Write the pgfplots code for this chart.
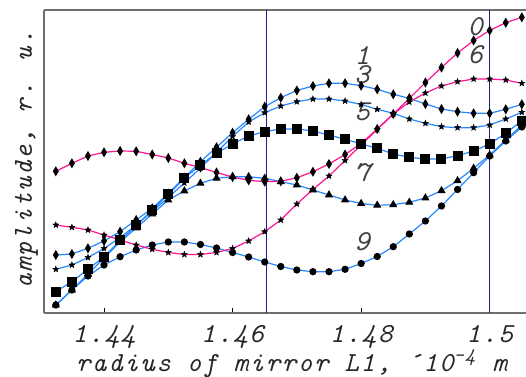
\documentclass[border=0pt]{standalone}
\usepackage{fontspec}
\newfontfamily\mono[LetterSpace=6]{lmmono10-italic.otf}
\newfontfamily\monol{lmmono10-italic.otf}
\usepackage{pgfplots}
\pgfplotsset{compat=1.18}
\usepackage{pgfplotstable}
\definecolor{pinkl}{RGB}{255,20,147}
\definecolor{bluel}{RGB}{40,135,255}
\definecolor{framec}{RGB}{110,110,110}
\definecolor{navyl}{RGB}{30,30,140}

\pgfdeclareplotmark{fstar}{%
 \pgfpathmoveto{\pgfpointpolar{90}{\pgfplotmarksize}}%
 \pgfpathlineto{\pgfpointpolar{126}{0.42\pgfplotmarksize}}%
 \pgfpathlineto{\pgfpointpolar{162}{\pgfplotmarksize}}%
 \pgfpathlineto{\pgfpointpolar{198}{0.42\pgfplotmarksize}}%
 \pgfpathlineto{\pgfpointpolar{234}{\pgfplotmarksize}}%
 \pgfpathlineto{\pgfpointpolar{270}{0.42\pgfplotmarksize}}%
 \pgfpathlineto{\pgfpointpolar{306}{\pgfplotmarksize}}%
 \pgfpathlineto{\pgfpointpolar{342}{0.42\pgfplotmarksize}}%
 \pgfpathlineto{\pgfpointpolar{18}{\pgfplotmarksize}}%
 \pgfpathlineto{\pgfpointpolar{54}{0.42\pgfplotmarksize}}%
 \pgfpathclose\pgfusepathqfillstroke}

\pgfplotstableread{
x      c0     c6     c1     c3     c5     c7     c9
1.4325 141.7  88.0   58.0   43.7   21.3   8.0    8.0
1.4350 149.7  85.7   59.0   48.0   31.3   23.0   23.0
1.4375 157.0  83.0   64.7   55.5   43.7   39.0   37.0
1.4400 160.7  78.0   72.0   64.5   56.3   55.0   48.0
1.4425 162.0  73.0   81.3   75.5   72.5   71.0   56.3
1.4450 161.7  68.0   93.0   88.0   87.5   85.0   63.0
1.4475 158.5  63.7   104.7  101.5  103.0  99.0   68.0
1.4500 155.0  60.5   119.5  115.5  118.5  113.0  71.0
1.4525 149.7  58.5   135.5  130.0  134.7  122.0  71.0
1.4550 145.5  58.5   151.3  145.0  148.0  129.7  68.5
1.4575 140.5  60.5   165.7  160.5  159.7  134.7  65.0
1.4600 136.0  64.5   180.3  176.5  169.0  136.3  60.5
1.4625 132.7  72.0   193.7  191.0  177.0  136.3  56.0
1.4650 131.3  81.3   206.3  200.3  181.3  134.7  51.0
1.4675 131.7  93.0   215.3  207.0  184.0  131.3  46.5
1.4700 135.2  109.0  222.5  211.3  184.0  128.0  43.0
1.4725 141.3  123.5  227.0  214.0  182.0  123.0  41.3
1.4750 149.0  137.0  229.7  214.0  178.0  118.0  41.3
1.4775 158.5  152.5  229.7  212.0  173.7  113.0  43.7
1.4800 169.5  168.0  227.3  208.5  169.0  109.5  49.5
1.4825 184.0  183.5  223.7  203.7  164.7  107.7  56.5
1.4850 199.0  199.0  218.7  199.7  159.0  108.3  66.3
1.4875 214.5  211.0  214.7  194.0  155.7  110.7  79.0
1.4900 230.5  220.0  209.0  189.7  154.0  115.0  92.0
1.4925 245.5  227.0  204.0  186.3  154.0  122.3  107.0
1.4950 260.0  231.3  201.3  185.3  157.3  132.3  123.5
1.4975 272.5  234.0  199.7  185.3  162.0  144.7  140.3
1.5000 282.5  234.0  199.7  188.0  169.0  158.0  157.0
1.5025 290.3  233.0  203.7  194.0  179.7  173.0  172.0
1.5050 295.7  229.7  208.7  200.7  192.3  188.0  186.0
}\data

\begin{document}
\begin{tikzpicture}
\begin{axis}[name=ax, scale only axis, width=241bp, height=151.5bp,
  xmin=1.43066, xmax=1.50565, ymin=0, ymax=303,
  axis x line=box, axis y line=left,
  axis line style={-, draw=framec, line width=0.6bp},
  xtick={1.44,1.46,1.48,1.5}, xticklabels={1.44,1.46,1.48,1.5},
  xtick pos=left, tick align=inside, major tick length=2.5bp,
  tick style={draw=black, line width=0.4bp},
  ytick=\empty,
  xticklabel style={font=\mono\fontsize{13.8}{16}\selectfont, text=black!85, anchor=base, yshift=-15bp},
  xlabel={radius of mirror L1, ´10\textsuperscript{-4} m},
  xlabel style={font=\mono\fontsize{13.8}{16}\selectfont, text=black!85, at={(axis description cs:0.5135,0)}, anchor=base, yshift=-29.3bp},
  ylabel={amplitude, r. u.},
  ylabel style={font=\mono\fontsize{13.8}{16}\selectfont, text=black!85, at={(axis description cs:-0.0249,0.507)}, anchor=base, rotate=0},
  clip=false,
  every axis plot/.append style={line width=0.6bp},
]
\addplot[navyl, line width=0.5bp, forget plot] coordinates {(1.4652,0) (1.4652,303)};
\addplot[navyl, line width=0.5bp, forget plot] coordinates {(1.5,0) (1.5,303)};
\addplot[bluel, mark=*, mark size=1.5bp, mark options={fill=black, draw=black}] table[x=x, y=c9] {\data};
\addplot[bluel, mark=triangle*, mark size=1.8bp, mark options={fill=black, draw=black}] table[x=x, y=c7] {\data};
\addplot[bluel, mark=square*, mark size=2.2bp, mark options={fill=black, draw=black}] table[x=x, y=c5] {\data};
\addplot[bluel, mark=fstar, mark size=1.6bp, mark options={fill=black, draw=black, line width=0.2bp}] table[x=x, y=c3] {\data};
\addplot[bluel, mark=diamond*, mark size=1.5bp, mark options={fill=black, draw=black, yscale=1.3}] table[x=x, y=c1] {\data};
\addplot[pinkl, mark=fstar, mark size=1.6bp, mark options={fill=black, draw=black, line width=0.2bp}] table[x=x, y=c6] {\data};
\addplot[pinkl, mark=diamond*, mark size=1.5bp, mark options={fill=black, draw=black, yscale=1.3}] table[x=x, y=c0] {\data};
\begin{scope}[every node/.style={font=\monol\fontsize{14.5}{17}\selectfont, text=black!75, inner sep=0pt}]
\node at (axis cs:1.49773,286) {0};
\node at (axis cs:1.49773,258) {6};
\node at (axis cs:1.48015,257.5) {1};
\node at (axis cs:1.48015,238.5) {3};
\node at (axis cs:1.48015,201) {5};
\node at (axis cs:1.48015,140) {7};
\node at (axis cs:1.48015,71) {9};
\end{scope}
\end{axis}
\pgfresetboundingbox
\path[use as bounding box] ([xshift=-22bp,yshift=-32bp]ax.south west) rectangle ([yshift=5bp]ax.north east);
\end{tikzpicture}
\end{document}
